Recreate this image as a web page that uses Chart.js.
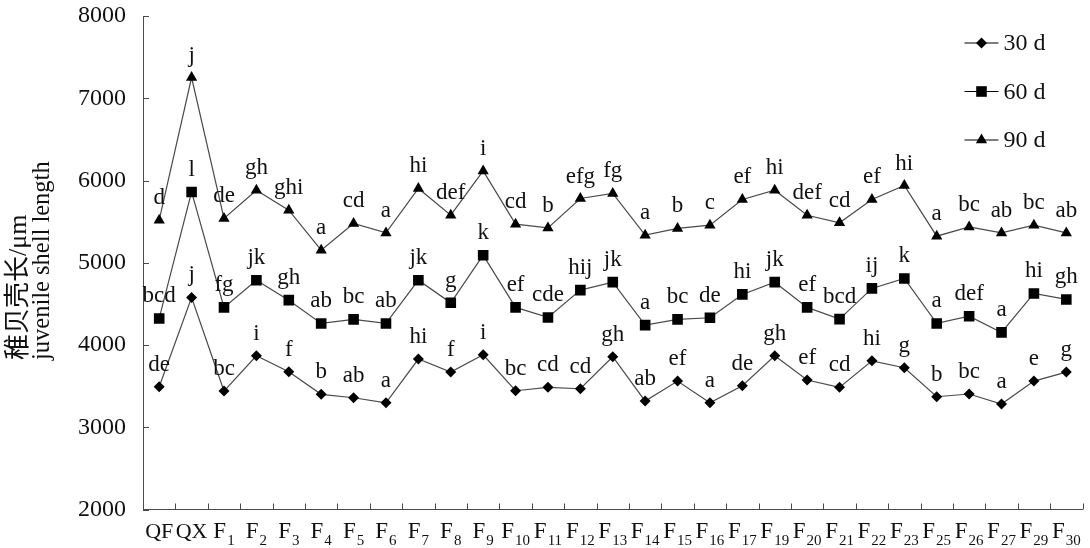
<!DOCTYPE html>
<html>
<head>
<meta charset="utf-8">
<script src="https://cdn.jsdelivr.net/npm/chart.js@4.4.0/dist/chart.umd.min.js"></script>
<style>
  body { margin: 0; background: #fff; }
  canvas { display: block; }
</style>
</head>
<body>
<canvas id="grafico" width="1090" height="548"></canvas>
<script>
const categorias = ['QF', 'QX', 'F1', 'F2', 'F3', 'F4', 'F5', 'F6', 'F7', 'F8', 'F9', 'F10', 'F11', 'F12', 'F13',
    'F14', 'F15', 'F16', 'F17', 'F19', 'F20', 'F21', 'F22', 'F23', 'F25', 'F26', 'F27', 'F29', 'F30'];

const dias30 = [3492, 4578, 3440, 3869, 3675, 3400, 3359, 3298, 3829, 3671, 3881, 3444, 3485, 3468, 3857,
    3318, 3561, 3298, 3504, 3869, 3574, 3485, 3808, 3723, 3371, 3404, 3282, 3561, 3671];
const dias60 = [4323, 5861, 4457, 4788, 4545, 4262, 4311, 4262, 4788, 4513, 5092, 4457, 4335, 4667, 4764,
    4242, 4311, 4331, 4615, 4764, 4457, 4315, 4688, 4809, 4262, 4350, 4153, 4627, 4554];
const dias90 = [5518, 7252, 5538, 5882, 5639, 5153, 5478, 5363, 5903, 5578, 6117, 5469, 5424, 5781, 5842,
    5335, 5417, 5457, 5769, 5882, 5578, 5485, 5769, 5939, 5323, 5436, 5363, 5457, 5363];

// letras de significância
const letras30 = ['de', 'j', 'bc', 'i', 'f', 'b', 'ab', 'a', 'hi', 'f', 'i', 'bc', 'cd', 'cd', 'gh',
    'ab', 'ef', 'a', 'de', 'gh', 'ef', 'cd', 'hi', 'g', 'b', 'bc', 'a', 'e', 'g'];
const letras60 = ['bcd', 'l', 'fg', 'jk', 'gh', 'ab', 'bc', 'ab', 'jk', 'g', 'k', 'ef', 'cde', 'hij', 'jk',
    'a', 'bc', 'de', 'hi', 'jk', 'ef', 'bcd', 'ij', 'k', 'a', 'def', 'a', 'hi', 'gh'];
const letras90 = ['d', 'j', 'de', 'gh', 'ghi', 'a', 'cd', 'a', 'hi', 'def', 'i', 'cd', 'b', 'efg', 'fg',
    'a', 'b', 'c', 'ef', 'hi', 'def', 'cd', 'ef', 'hi', 'a', 'bc', 'ab', 'bc', 'ab'];

const yTicks = [2000, 3000, 4000, 5000, 6000, 7000, 8000];
const tituloY = ['稚贝壳长/μm', 'juvenile shell length'];

const FONTE = "'Liberation Serif', 'Times New Roman', 'Noto Sans CJK SC', serif";
const COR_TEXTO = '#111';
const COR_LINHA = '#4a4a4a';

// rótulos do eixo x com subscrito, marcas internas e título do eixo y
const eixosPlugin = {
    id: 'eixos',
    afterDraw(chart) {
        const ctx = chart.ctx;
        const x = chart.scales.x, y = chart.scales.y;
        const area = chart.chartArea;
        ctx.save();
        ctx.strokeStyle = COR_LINHA;
        ctx.lineWidth = 1;
        // marcas do eixo x (para dentro)
        ctx.beginPath();
        for (let i = 0; i < categorias.length; i++) {
            const px = Math.round(x.getPixelForValue(i) + (x.getPixelForValue(1) - x.getPixelForValue(0)) / 2) + 0.5;
            ctx.moveTo(px, area.bottom);
            ctx.lineTo(px, area.bottom - 6);
        }
        // marcas do eixo y
        yTicks.forEach(v => {
            const py = Math.round(y.getPixelForValue(v)) + 0.5;
            ctx.moveTo(area.left, py);
            ctx.lineTo(area.left + 6, py);
        });
        ctx.stroke();

        // rótulos x
        ctx.fillStyle = COR_TEXTO;
        ctx.textBaseline = 'alphabetic';
        ctx.textAlign = 'left';
        categorias.forEach((cat, i) => {
            const m = cat.match(/^F(\d+)$/);
            const cx = x.getPixelForValue(i);
            const base = area.bottom + 28;
            if (m) {
                ctx.font = '23px ' + FONTE;
                const wF = ctx.measureText('F').width;
                ctx.font = '15px ' + FONTE;
                const wS = ctx.measureText(m[1]).width;
                const x0 = cx - (wF + 1 + wS) / 2;
                ctx.font = '23px ' + FONTE;
                ctx.fillText('F', x0, base);
                ctx.font = '15px ' + FONTE;
                ctx.fillText(m[1], x0 + wF + 1, base + 7);
            } else {
                ctx.font = '22px ' + FONTE;
                const w = ctx.measureText(cat).width;
                ctx.fillText(cat, cx - w / 2, base);
            }
        });

        // título do eixo y (rotacionado)
        ctx.textBaseline = 'alphabetic';
        ctx.textAlign = 'left';
        [[26, 26], [49, 24.5]].forEach(([tx, tam], k) => {
            ctx.save();
            ctx.font = tam + 'px ' + FONTE;
            ctx.translate(tx, 360);
            ctx.rotate(-Math.PI / 2);
            ctx.fillText(tituloY[k], 0, 0);
            ctx.restore();
        });
        ctx.restore();
    }
};

// letras acima dos pontos
const letrasPlugin = {
    id: 'letras',
    afterDatasetsDraw(chart) {
        const ctx = chart.ctx;
        const todas = [letras30, letras60, letras90];
        ctx.save();
        ctx.font = '23px ' + FONTE;
        ctx.fillStyle = COR_TEXTO;
        ctx.textAlign = 'center';
        ctx.textBaseline = 'alphabetic';
        todas.forEach((letras, d) => {
            const meta = chart.getDatasetMeta(d);
            meta.data.forEach((pt, i) => {
                ctx.fillText(letras[i], pt.x, pt.y - 16);
            });
        });
        ctx.restore();
    }
};

// legenda vertical no canto superior direito
const legendaPlugin = {
    id: 'legenda',
    afterDraw(chart) {
        const ctx = chart.ctx;
        const area = chart.chartArea;
        const x0 = area.right - 118;
        ctx.save();
        chart.data.datasets.forEach((ds, i) => {
            const ly = 43 + i * 48.5;
            ctx.strokeStyle = '#000';
            ctx.lineWidth = 1.2;
            ctx.beginPath();
            ctx.moveTo(x0, ly);
            ctx.lineTo(x0 + 34, ly);
            ctx.stroke();
            ctx.fillStyle = '#000';
            Chart.helpers.drawPoint(ctx, {
                pointStyle: ds.pointStyle, radius: ds.pointRadius, rotation: 0, borderWidth: 0
            }, x0 + 17, ly);
            ctx.font = '24px ' + FONTE;
            ctx.fillStyle = COR_TEXTO;
            ctx.textBaseline = 'middle';
            ctx.textAlign = 'left';
            ctx.fillText(ds.label, x0 + 39, ly + 1);
        });
        ctx.restore();
    }
};

function serie(label, data, estilo, raio) {
    return {
        label: label,
        data: data,
        borderColor: COR_LINHA,
        borderWidth: 1.2,
        pointStyle: estilo,
        pointRadius: raio,
        pointBackgroundColor: '#000',
        pointBorderColor: '#000',
        pointBorderWidth: 0,
        tension: 0,
        fill: false
    };
}

new Chart(document.getElementById('grafico').getContext('2d'), {
    type: 'line',
    data: {
        labels: categorias,
        datasets: [
            serie('30 d', dias30, 'rectRot', 5.5),
            serie('60 d', dias60, 'rect', 7.5),
            serie('90 d', dias90, 'triangle', 6.5)
        ]
    },
    options: {
        responsive: false,
        animation: false,
        layout: { padding: { top: 16, right: 2, left: 0, bottom: 0 } },
        plugins: {
            legend: { display: false },
            tooltip: { enabled: false }
        },
        scales: {
            x: {
                offset: true,
                grid: { display: false },
                border: { display: true, color: COR_LINHA, width: 1 },
                ticks: { display: false },
                afterFit(scale) {
                    scale.height = 38.5;
                    scale.paddingLeft = 0;
                    scale.paddingRight = 0;
                }
            },
            y: {
                min: 2000,
                max: 8000,
                grid: { display: false, drawTicks: false },
                border: { display: true, color: COR_LINHA, width: 1 },
                afterBuildTicks(scale) { scale.ticks = yTicks.map(v => ({ value: v })); },
                ticks: {
                    padding: 17,
                    color: COR_TEXTO,
                    font: { family: FONTE, size: 24 },
                    callback: v => String(v)
                },
                afterFit(scale) {
                    scale.width = 143;
                    scale.paddingTop = 0;
                    scale.paddingBottom = 0;
                }
            }
        }
    },
    plugins: [eixosPlugin, letrasPlugin, legendaPlugin]
});
</script>
</body>
</html>
